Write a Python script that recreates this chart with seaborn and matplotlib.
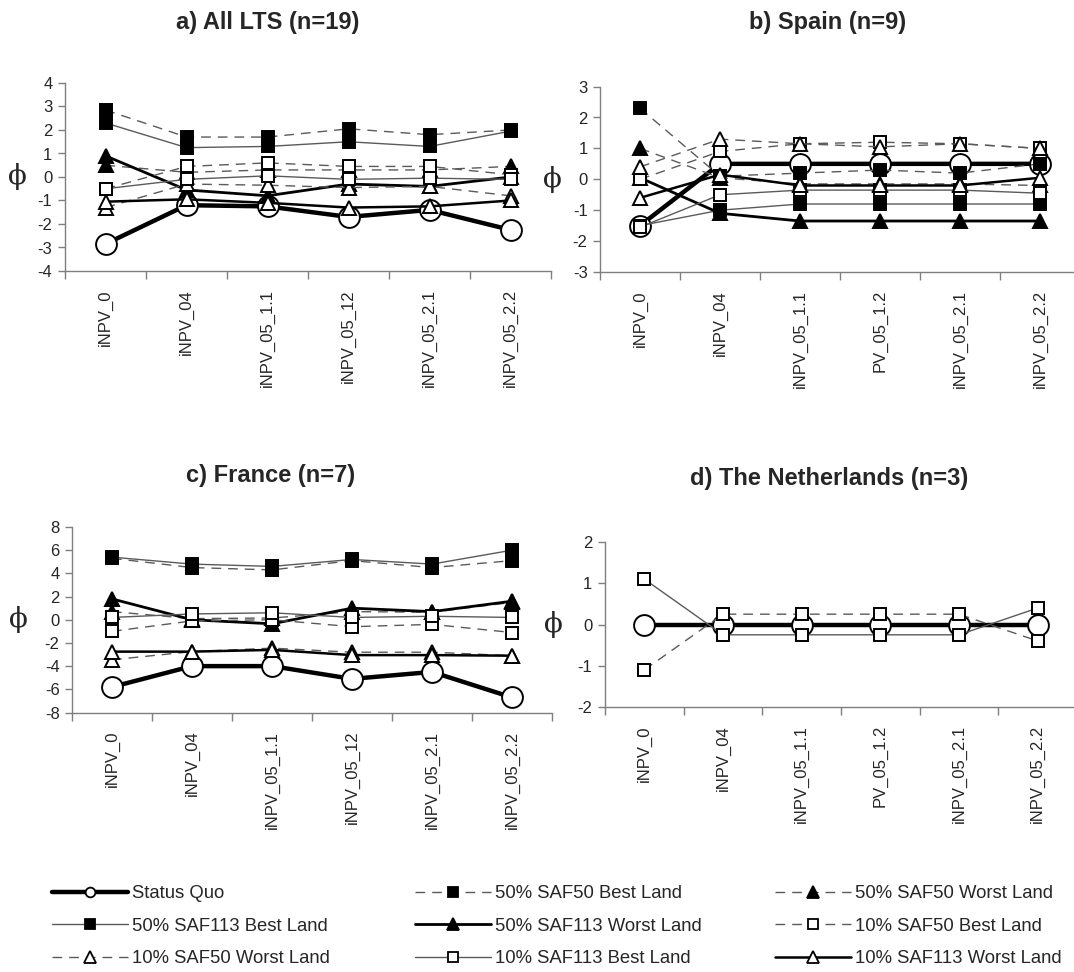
import matplotlib
matplotlib.use("Agg")
import matplotlib.pyplot as plt
from matplotlib.lines import Line2D
import seaborn as sns
import pandas as pd

# categories on the x axis
cats_a = ["iNPV_0", "iNPV_04", "iNPV_05_1.1", "iNPV_05_12", "iNPV_05_2.1", "iNPV_05_2.2"]
cats_b = ["iNPV_0", "iNPV_04", "iNPV_05_1.1", "PV_05_1.2", "iNPV_05_2.1", "iNPV_05_2.2"]

# phi values
all_lts = {
    "Status Quo": [-2.85, -1.2, -1.25, -1.7, -1.4, -2.25],
    "50% SAF50 Best Land": [2.85, 1.7, 1.7, 2.05, 1.8, 2.0],
    "50% SAF50 Worst Land": [0.5, 0.2, 0.3, 0.3, 0.3, 0.45],
    "50% SAF113 Best Land": [2.3, 1.25, 1.3, 1.5, 1.3, 1.95],
    "50% SAF113 Worst Land": [0.9, -0.55, -0.8, -0.3, -0.4, 0.0],
    "10% SAF50 Best Land": [-0.5, 0.45, 0.6, 0.45, 0.45, 0.1],
    "10% SAF50 Worst Land": [-1.3, -0.3, -0.35, -0.45, -0.4, -0.8],
    "10% SAF113 Best Land": [-0.5, -0.1, 0.05, -0.1, -0.05, -0.1],
    "10% SAF113 Worst Land": [-1.05, -0.95, -1.1, -1.3, -1.25, -1.0],
}
spain = {
    "Status Quo": [-1.5, 0.5, 0.5, 0.5, 0.5, 0.5],
    "50% SAF50 Best Land": [2.3, 0.1, 0.2, 0.3, 0.2, 0.5],
    "50% SAF50 Worst Land": [1.0, 0.05, -0.15, -0.15, -0.15, -0.2],
    "50% SAF113 Best Land": [-1.5, -1.0, -0.8, -0.8, -0.8, -0.8],
    "50% SAF113 Worst Land": [0.05, -1.1, -1.35, -1.35, -1.35, -1.35],
    "10% SAF50 Best Land": [0.0, 0.9, 1.15, 1.2, 1.15, 1.0],
    "10% SAF50 Worst Land": [0.4, 1.3, 1.15, 1.05, 1.15, 1.0],
    "10% SAF113 Best Land": [-1.55, -0.5, -0.35, -0.35, -0.35, -0.45],
    "10% SAF113 Worst Land": [-0.6, 0.15, -0.2, -0.2, -0.2, 0.05],
}
france = {
    "Status Quo": [-5.8, -4.0, -4.0, -5.1, -4.5, -6.7],
    "50% SAF50 Best Land": [5.3, 4.5, 4.3, 5.1, 4.5, 5.1],
    "50% SAF50 Worst Land": [0.7, 0.1, 0.15, 0.7, 0.65, 1.5],
    "50% SAF113 Best Land": [5.4, 4.8, 4.6, 5.2, 4.8, 6.0],
    "50% SAF113 Worst Land": [1.8, 0.0, -0.35, 1.0, 0.7, 1.6],
    "10% SAF50 Best Land": [-1.0, -0.1, 0.0, -0.6, -0.4, -1.1],
    "10% SAF50 Worst Land": [-3.45, -2.75, -2.45, -2.8, -2.8, -3.1],
    "10% SAF113 Best Land": [0.2, 0.5, 0.6, 0.2, 0.3, 0.2],
    "10% SAF113 Worst Land": [-2.75, -2.75, -2.6, -3.05, -3.05, -3.1],
}
netherlands = {
    "Status Quo": [0, 0, 0, 0, 0, 0],
    "10% SAF50 Best Land": [-1.1, 0.25, 0.25, 0.25, 0.25, -0.4],
    "10% SAF113 Best Land": [1.1, -0.25, -0.25, -0.25, -0.25, 0.4],
}

GRAY = "#5a5a5a"
DASH = (0, (7, 5))
styles = {
    "Status Quo": dict(color="black", ls="-", lw=3.2, marker="o", mfc="white", ms=15),
    "50% SAF50 Best Land": dict(color=GRAY, ls=DASH, lw=1, marker="s", mfc="black", ms=8.5),
    "50% SAF50 Worst Land": dict(color=GRAY, ls=DASH, lw=1, marker="^", mfc="black", ms=9.5),
    "50% SAF113 Best Land": dict(color=GRAY, ls="-", lw=1, marker="s", mfc="black", ms=8.5),
    "50% SAF113 Worst Land": dict(color="black", ls="-", lw=2, marker="^", mfc="black", ms=9.5),
    "10% SAF50 Best Land": dict(color=GRAY, ls=DASH, lw=1, marker="s", mfc="white", ms=8.5),
    "10% SAF50 Worst Land": dict(color=GRAY, ls=DASH, lw=1, marker="^", mfc="white", ms=9.5),
    "10% SAF113 Best Land": dict(color=GRAY, ls="-", lw=1, marker="s", mfc="white", ms=8.5),
    "10% SAF113 Worst Land": dict(color="black", ls="-", lw=1.8, marker="^", mfc="white", ms=9.5),
}

sns.set_style("ticks")
plt.rcParams['font.family'] = ['Liberation Sans', 'DejaVu Sans']
plt.rcParams['axes.unicode_minus'] = False

W, H = 1074, 972
fig = plt.figure(figsize=(W / 100, H / 100), dpi=100)


def px_axes(left, top, right, bottom):
    return fig.add_axes([left / W, 1 - bottom / H, (right - left) / W, (bottom - top) / H])


def draw_panel(ax, cats, data, ylo, yhi, ystep, title, title_xy, ylab_x):
    for name in styles:
        if name not in data:
            continue
        st = styles[name]
        df = pd.DataFrame({"x": cats, "y": data[name]})
        sns.lineplot(data=df, x="x", y="y", ax=ax, sort=False,
                     color=st["color"], linestyle=st["ls"], linewidth=st["lw"],
                     marker=st["marker"], markersize=st["ms"],
                     markerfacecolor=st["mfc"], markeredgecolor="black",
                     markeredgewidth=1.4, clip_on=False)
    ax.set_xlim(-0.5, 5.5)
    ax.set_ylim(ylo, yhi)
    ax.set_yticks(list(range(ylo, yhi + 1, ystep)))
    ax.set_xticks(range(len(cats)))
    ax.set_xticklabels(cats, rotation=90, fontsize=12)
    ax.set_xticks([i - 0.5 for i in range(len(cats) + 1)], minor=True)
    ax.tick_params(axis="x", which="major", length=0, pad=13)
    ax.tick_params(axis="x", which="minor", length=6, width=1, color="#7f7f7f")
    ax.tick_params(axis="y", length=5, width=1, color="#7f7f7f", labelsize=12, pad=4)
    sns.despine(ax=ax)
    for sp in ("left", "bottom"):
        ax.spines[sp].set_color("#7f7f7f")
        ax.spines[sp].set_linewidth(1)
    ax.set_xlabel("")
    ax.set_ylabel("ϕ", rotation=0, fontsize=20, family=["DejaVu Serif"])
    ax.yaxis.set_label_coords(ylab_x, 0.5)
    ax.yaxis.label.set_va("center")
    fig.text(title_xy[0] / W, 1 - title_xy[1] / H, title, ha="center", va="center",
             fontsize=17, fontweight="bold")


ax_a = px_axes(65, 83, 551, 271)
draw_panel(ax_a, cats_a, all_lts, -4, 4, 1, "a) All LTS (n=19)", (268, 22), -0.097)

ax_b = px_axes(600, 86.6, 1080, 272)
draw_panel(ax_b, cats_b, spain, -3, 3, 1, "b) Spain (n=9)", (828, 22), -0.1)

ax_c = px_axes(72, 527, 552, 712.5)
draw_panel(ax_c, cats_a, france, -8, 8, 2, "c) France (n=7)", (271, 475), -0.1125)

ax_d = px_axes(605, 542, 1077, 707)
draw_panel(ax_d, cats_b, netherlands, -2, 2, 1, "d) The Netherlands (n=3)", (829, 478), -0.11)

# legend, three columns placed by hand
legend_ms = {"o": 7, "s": 7, "^": 8}


def proxy(name):
    st = styles[name]
    return Line2D([], [], color=st["color"], linestyle=st["ls"], linewidth=st["lw"],
                  marker=st["marker"], markersize=legend_ms[st["marker"]],
                  markerfacecolor=st["mfc"], markeredgecolor="black", markeredgewidth=1.3,
                  label=name)


columns = [
    ["Status Quo", "50% SAF113 Best Land", "10% SAF50 Worst Land"],
    ["50% SAF50 Best Land", "50% SAF113 Worst Land", "10% SAF113 Best Land"],
    ["50% SAF50 Worst Land", "10% SAF50 Best Land", "10% SAF113 Worst Land"],
]
col_x = [52, 415, 775]
for names, x in zip(columns, col_x):
    fig.legend(handles=[proxy(n) for n in names], loc="upper left",
               bbox_to_anchor=(x / W, 1 - 885 / H), frameon=False, fontsize=13.3,
               handlelength=4.1, handletextpad=0.25, labelspacing=0.85, borderpad=0,
               borderaxespad=0)

fig.savefig("out.png", dpi=100)
plt.close(fig)
